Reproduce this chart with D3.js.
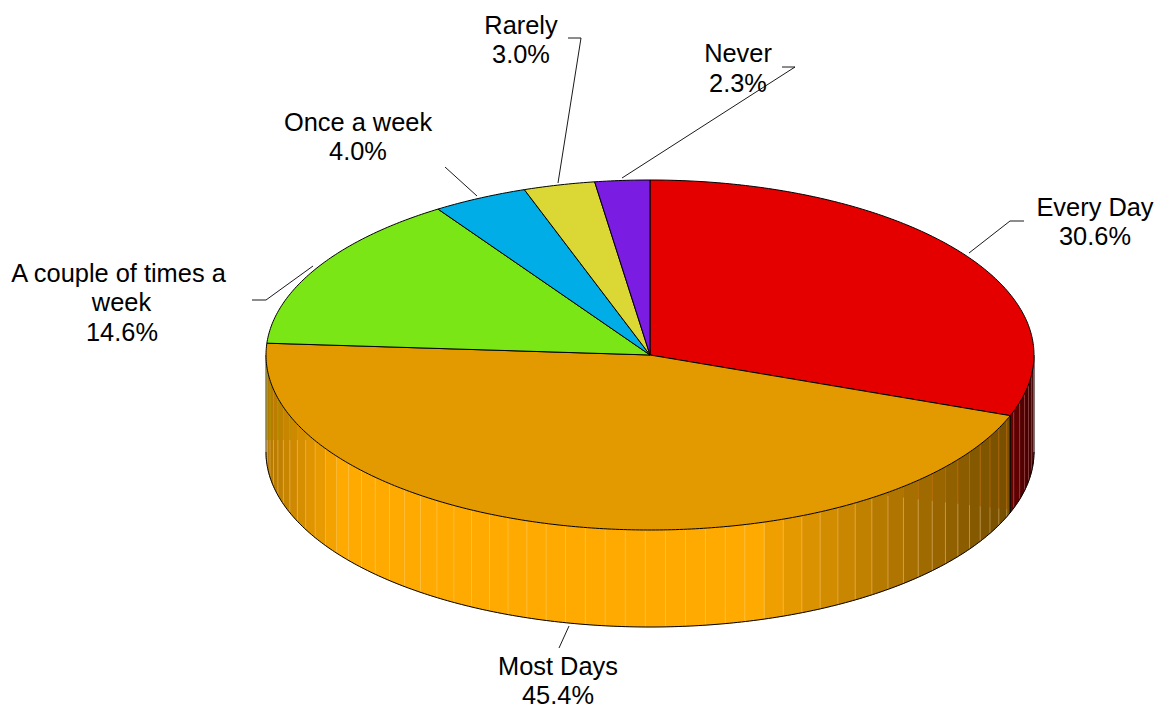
<!DOCTYPE html>
<html>
<head>
<meta charset="utf-8">
<script src="https://cdn.jsdelivr.net/npm/d3@7"></script>
<style>
html,body{margin:0;padding:0;background:#fff;overflow:hidden}
text{font-family:"Liberation Sans",Arial,sans-serif;font-size:25.4px;fill:#000;text-anchor:middle}
</style>
</head>
<body>
<svg id="c" width="1162" height="708"></svg>
<script>
// Data, in drawing order (clockwise from 12 o'clock)
const categories = ["Every Day", "Most Days", "A couple of times a week", "Once a week", "Rarely", "Never"];
const values = [30.6, 45.4, 14.6, 4.0, 3.0, 2.3];
const valueLabels = ["30.6%", "45.4%", "14.6%", "4.0%", "3.0%", "2.3%"];
const topColors = ["#e50000", "#e39a00", "#7ae615", "#00ade6", "#dbd836", "#7b1ce3"];
const sideColors = ["#e50000", "#ffaa00", "#7ae615", "#00ade6", "#dbd836", "#7b1ce3"];

// Layout (separate from data)
const cx = 650, cy = 355, rx = 384, ry = 175, depth = 97;
const labelLayout = [
  {x: [1095, 1095], y: [216, 245], leader: [[969,253],[1010,221],[1024,221]]},
  {x: [558, 558],  y: [675, 704], leader: [[569,626],[559,648]]},
  {x: [118.5, 121.5, 122],  y: [282, 311, 341], lines: ["A couple of times a", "week"], leader: [[313,266],[266,300],[252,300]]},
  {x: [358, 358],  y: [131, 160], leader: [[477,196],[445,167]]},
  {x: [521, 521],  y: [34, 63], leader: [[558,183],[581,38],[568,38]]},
  {x: [738, 738],  y: [62, 92], leader: [[622,178],[795,67],[782,67]]}
];

const svg = d3.select("#c");
const pie = d3.pie().sort(null).value(d => d)(values);
const px = d3.scaleLinear().domain([-1, 1]).range([cx - rx, cx + rx]);
const py = d3.scaleLinear().domain([-1, 1]).range([cy - ry, cy + ry]);
const pt = (a, dz = 0) => [px(Math.sin(a)), py(-Math.cos(a)) + dz];
const line = d3.line();
const rad = Math.PI / 180;

function arcPts(a0, a1, dz = 0, n = 120) {
  const steps = Math.max(2, Math.ceil(n * Math.abs(a1 - a0) / Math.PI));
  return d3.range(steps + 1).map(i => pt(a0 + (a1 - a0) * i / steps, dz));
}

// Side shading
const shade = s => {
  if (s > 0.28) return Math.max(0.47, 0.97 - (s - 0.28) * 0.79);
  if (s < -0.8) return 1 - (-s - 0.8) * 1.5;
  return 1;
};
const redShade = s => Math.max(0.22, 0.48 - (s - 0.94) * 4);
const dim = (col, f) => { const c = d3.rgb(col); return d3.rgb(c.r * f, c.g * f, c.b * f).formatHex(); };

const sideG = svg.append("g");
const step = 3 * rad, phase = 0.7 * rad;
pie.forEach((d, i) => {
  const a0 = Math.max(d.startAngle, Math.PI / 2), a1 = Math.min(d.endAngle, 1.5 * Math.PI);
  if (a1 <= a0) return;
  const cuts = [a0];
  for (let k = Math.ceil((a0 - Math.PI - phase) / step); ; k++) {
    const a = Math.PI + phase + k * step;
    if (a >= a1) break;
    if (a > a0) cuts.push(a);
  }
  cuts.push(a1);
  d3.pairs(cuts).forEach(([u, v]) => {
    const s = Math.sin((u + v) / 2);
    const col = dim(sideColors[i], i === 0 ? redShade(s) : shade(s));
    const poly = arcPts(u, v, 0).concat(arcPts(v, u, depth));
    sideG.append("path").attr("d", line(poly) + "Z")
      .attr("fill", col).attr("stroke", col).attr("stroke-width", 0.5);
  });
  // strip seams
  cuts.slice(1, -1).forEach(a => {
    const s = Math.sin(a);
    const [x, y0] = pt(a), y1 = y0 + depth;
    const split = s > 0 ? d3.scaleLinear().domain([0.6, 0.9]).range([495, 508])(s) : 440;
    const upperZone = i === 1 && ((s > 0.6) || (s < -0.85));
    if (upperZone && y0 < split) {
      sideG.append("line").attr("x1", x).attr("x2", x).attr("y1", y0).attr("y2", split)
        .attr("stroke", s > 0 ? "#c46a00" : "#a8a800").attr("stroke-opacity", 0.7).attr("stroke-width", 1);
      sideG.append("line").attr("x1", x).attr("x2", x).attr("y1", split).attr("y2", y1)
        .attr("stroke", "#ffd890").attr("stroke-opacity", 0.4).attr("stroke-width", 1);
    } else {
      sideG.append("line").attr("x1", x).attr("x2", x).attr("y1", y0).attr("y2", y1)
        .attr("stroke", i === 0 ? "#d08080" : "#ffd67f").attr("stroke-opacity", i === 0 ? 0.4 : 0.38).attr("stroke-width", 1);
    }
  });
});

// Side outline
svg.append("path").attr("d", line(arcPts(Math.PI / 2, 1.5 * Math.PI, depth, 300)))
  .attr("fill", "none").attr("stroke", "#000").attr("stroke-width", 1);
const rightA = Math.PI / 2, leftA = 1.5 * Math.PI;
svg.append("path").attr("d", line([pt(rightA), pt(rightA, depth)]))
  .attr("stroke", "#777").attr("stroke-width", 1);
svg.append("path").attr("d", line([pt(leftA), pt(leftA, depth)]))
  .attr("stroke", "#777").attr("stroke-width", 1);
// Seam at the slice boundary on the front wall
svg.append("path").attr("d", line([pt(pie[0].endAngle), pt(pie[0].endAngle, depth)]))
  .attr("stroke", "#000").attr("stroke-width", 1.2);

// Top faces
svg.append("g").selectAll("path").data(pie).join("path")
  .attr("d", d => line([[cx, cy]].concat(arcPts(d.startAngle, d.endAngle, 0, 300))) + "Z")
  .attr("fill", (d, i) => topColors[i])
  .attr("stroke", "#000").attr("stroke-width", 1).attr("stroke-linejoin", "round");

// Leaders
svg.append("g").selectAll("path").data(labelLayout).join("path")
  .attr("d", d => line(d.leader)).attr("fill", "none").attr("stroke", "#000").attr("stroke-width", 0.9);

// Labels
const labelG = svg.append("g");
labelLayout.forEach((l, i) => {
  const rows = (l.lines || [categories[i]]).concat(valueLabels[i]);
  rows.forEach((t, j) => labelG.append("text").attr("x", l.x[j]).attr("y", l.y[j]).text(t));
});
</script>
</body>
</html>
